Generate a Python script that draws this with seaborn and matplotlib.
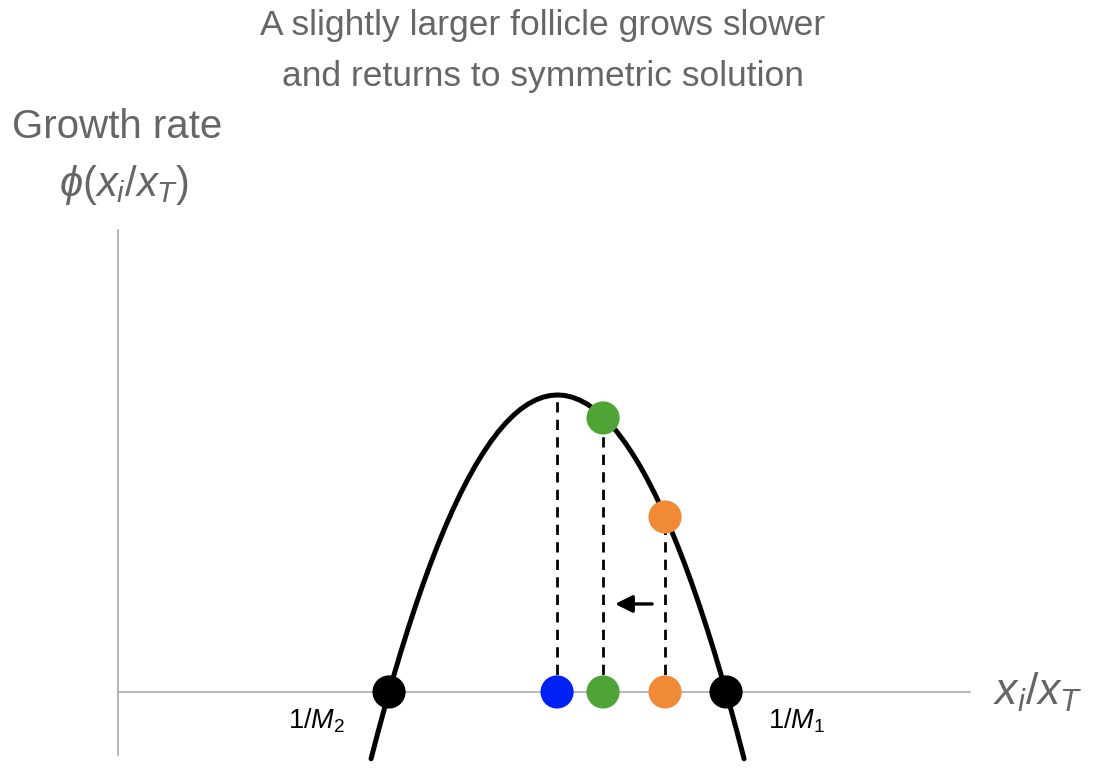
import pandas as pd
import seaborn as sns
import matplotlib.pyplot as plt

# growth-rate curve (x = x_i/x_T, y = phi)
curve_x = [2.53, 2.60, 2.675, 2.75, 2.825, 2.90, 2.975, 3.05, 3.125, 3.20, 3.275, 3.35, 3.425,
           3.50, 3.575, 3.65, 3.725, 3.80, 3.875, 3.95, 4.025, 4.10, 4.175, 4.25, 4.325, 4.395,
           4.465, 4.54, 4.615, 4.69, 4.765, 4.84, 4.915, 4.99, 5.065, 5.14, 5.215, 5.29, 5.365,
           5.44, 5.515, 5.59, 5.665, 5.74, 5.815, 5.89, 5.965, 6.04, 6.115, 6.19, 6.26]
curve_y = [-0.668, -0.40, -0.124, 0.139, 0.392, 0.632, 0.861, 1.078, 1.283, 1.476, 1.658, 1.828,
           1.986, 2.132, 2.267, 2.389, 2.500, 2.600, 2.687, 2.763, 2.827, 2.879, 2.919, 2.948,
           2.965, 2.970, 2.965, 2.948, 2.919, 2.879, 2.827, 2.763, 2.687, 2.600, 2.500, 2.389,
           2.267, 2.132, 1.986, 1.828, 1.658, 1.476, 1.283, 1.078, 0.861, 0.632, 0.392, 0.139,
           -0.124, -0.40, -0.668]

# fixed points 1/M2 and 1/M1
root_x = [2.71, 6.08]
root_labels = ["$1/M_2$", "$1/M_1$"]

# follicles: symmetric solution, slightly larger one now, and where it came from
foll_name = ["symmetric", "now", "before"]
foll_x = [4.39, 4.85, 5.47]
foll_phi = [2.97, 2.74, 1.75]
foll_color = ["#0022f5", "#4ea535", "#f08a36"]

# arrow showing the follicle moving back
arrow_start = 5.34
arrow_end = 4.97
arrow_y = 0.88

df_curve = pd.DataFrame({"x": curve_x, "phi": curve_y})
df_foll = pd.DataFrame({"name": foll_name, "x": foll_x, "phi": foll_phi})

sns.set_theme(style="white")
plt.rcParams["font.family"] = ["Liberation Sans", "DejaVu Sans"]
plt.rcParams["mathtext.fontset"] = "custom"
plt.rcParams["mathtext.rm"] = "Liberation Sans"
plt.rcParams["mathtext.it"] = "Liberation Sans:italic"

fig = plt.figure(figsize=(10.98, 7.8), dpi=100)
ax = fig.add_axes([0.1075, 0.0321, 0.7760, 0.6731])

gray = "#666666"

# dashed drop lines
ax.vlines(foll_x, 0, foll_phi, colors="black", linewidth=2.0,
          linestyles=[(0, (3.7, 2.6))], zorder=2)

sns.lineplot(data=df_curve, x="x", y="phi", color="black", linewidth=3.6,
             estimator=None, sort=False, ax=ax, zorder=3, clip_on=False,
             solid_joinstyle="round")

# dots on the curve (only the moving follicle)
sns.scatterplot(data=df_foll.iloc[1:], x="x", y="phi", hue="name",
                palette=foll_color[1:], s=570, edgecolor="none", legend=False,
                ax=ax, zorder=4, clip_on=False)

# dots on the axis
sns.scatterplot(x=foll_x, y=[0] * len(foll_x), hue=foll_name, palette=foll_color,
                s=570, edgecolor="none", legend=False, ax=ax, zorder=4)
sns.scatterplot(x=root_x, y=[0] * len(root_x), color="black", s=570,
                edgecolor="none", legend=False, ax=ax, zorder=4)

ax.annotate("", xy=(arrow_end, arrow_y), xytext=(arrow_start, arrow_y),
            arrowprops=dict(arrowstyle="-|>", color="black", lw=2.4,
                            mutation_scale=26, shrinkA=0, shrinkB=0))

for rx, lab, dx in zip(root_x, root_labels, [-0.44, 0.42]):
    ax.text(rx + dx, -0.29, lab, fontsize=19.5, color="black",
            ha="right" if dx < 0 else "left", va="center")

ax.set_xlim(0, 8.52)
ax.set_ylim(-0.63, 4.62)
ax.set_xlabel("")
ax.set_ylabel("")
ax.set_xticks([])
ax.set_yticks([])
for side in ["top", "right"]:
    ax.spines[side].set_visible(False)
ax.spines["bottom"].set_position(("data", 0))
for side in ["left", "bottom"]:
    ax.spines[side].set_color("#aaaaaa")
    ax.spines[side].set_linewidth(1.2)
    ax.spines[side].set_zorder(1)

ax.text(8.75, 0, "$x_i/x_T$", fontsize=32, color=gray, ha="left", va="center",
        clip_on=False)

fig.text(0.1066, 0.837, "Growth rate", fontsize=29, color=gray, ha="center", va="center")
fig.text(0.1130, 0.763, r"$\phi(x_i/x_T)$", fontsize=30, color=gray, ha="center", va="center")
fig.text(0.4945, 0.935, "A slightly larger follicle grows slower\nand returns to symmetric solution",
         fontsize=25.5, color=gray, ha="center", va="center", linespacing=1.68)

fig.savefig("out.png", dpi=100)
